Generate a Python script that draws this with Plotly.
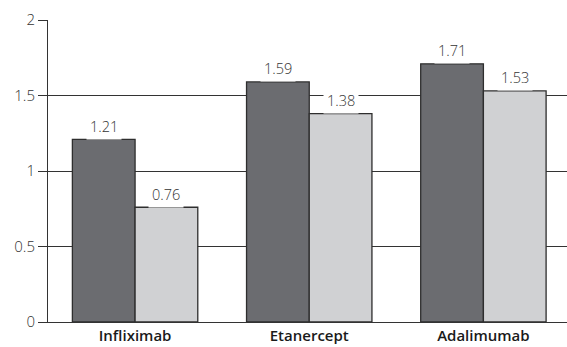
import plotly.graph_objects as go

# Drug categories and the two series of values
categories = ["Infliximab", "Etanercept", "Adalimumab"]
series_dark = [1.21, 1.59, 1.71]
series_light = [0.76, 1.38, 1.53]
y_ticks = [0, 0.5, 1, 1.5, 2]
y_tick_labels = ["0", "0.5", "1", "1.5", "2"]

x_pos = list(range(len(categories)))

fig = go.Figure()
fig.add_trace(go.Bar(
    x=x_pos, y=series_dark, name="Series 1",
    marker=dict(color="#6b6c70", line=dict(color="#2e2e2e", width=1.3)),
))
fig.add_trace(go.Bar(
    x=x_pos, y=series_light, name="Series 2",
    marker=dict(color="#d0d1d3", line=dict(color="#2e2e2e", width=1.3)),
))

# Value labels with white backing so they cut through gridlines
group_w = 0.72
offsets = [-group_w / 4, group_w / 4]
for off, vals in zip(offsets, [series_dark, series_light]):
    for xi, v in zip(x_pos, vals):
        fig.add_annotation(
            x=xi + off, y=v, text=f"{v:.2f}", showarrow=False,
            yanchor="middle", yshift=13, bgcolor="white", borderpad=3,
            font=dict(family="Open Sans", size=14.5, color="#333333", weight=300),
        )

fig.update_layout(
    width=567, height=347,
    margin=dict(l=48, r=0, t=20, b=25),
    paper_bgcolor="white", plot_bgcolor="white",
    barmode="group", bargap=1 - group_w, bargroupgap=0,
    showlegend=False,
    font=dict(family="Open Sans", color="#333333"),
)
fig.update_xaxes(
    range=[-0.5, 2.48], tickvals=x_pos, ticktext=categories,
    showgrid=False, showline=True, linecolor="#333333", linewidth=1,
    ticks="", tickfont=dict(size=15, color="#1a1a1a", weight=600),
    zeroline=False,
)
fig.update_yaxes(
    range=[0, 2], tickvals=y_ticks, ticktext=y_tick_labels,
    showgrid=True, gridcolor="#333333", gridwidth=1,
    showline=True, linecolor="#333333", linewidth=1,
    ticks="outside", ticklen=9, tickcolor="#333333",
    tickfont=dict(size=15, color="#333333", weight=300),
    zeroline=False,
)

fig.write_html("out.html")
